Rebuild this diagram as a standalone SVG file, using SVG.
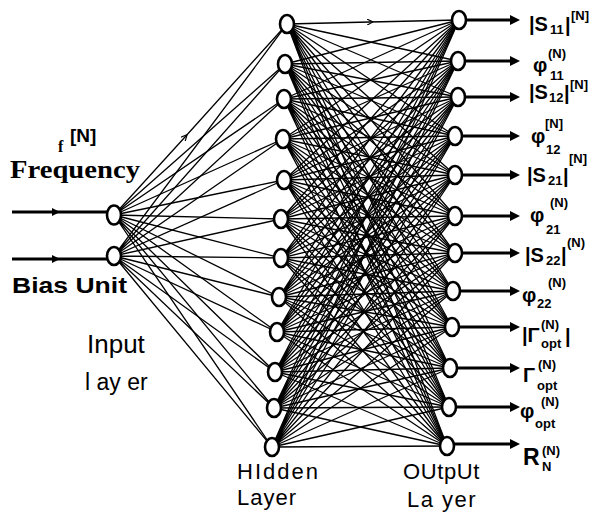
<svg xmlns="http://www.w3.org/2000/svg" width="595" height="514" viewBox="0 0 595 514">
<defs>
<style>
.c{stroke:#000;stroke-width:1.3;fill:none}
.n{fill:#fff;stroke:#000;stroke-width:2.6}
.a{stroke:#000;stroke-width:3;fill:none}
.lm{font-family:"Liberation Sans",Arial,sans-serif;font-weight:bold;font-size:20px}
.ls{font-family:"Liberation Sans",Arial,sans-serif;font-weight:bold;font-size:13px}
.lay{font-family:"Liberation Sans",Arial,sans-serif;font-size:22px}
</style>
<marker id="ah" viewBox="0 0 10 10" refX="2" refY="5" markerWidth="10" markerHeight="10" markerUnits="userSpaceOnUse" orient="auto"><path d="M0,0L10,5L0,10z" fill="#000"/></marker>
<marker id="am" viewBox="0 0 8 8" refX="4" refY="4" markerWidth="8" markerHeight="8" markerUnits="userSpaceOnUse" orient="auto"><path d="M0,0L8,4L0,8z" fill="#000"/></marker>
<marker id="as" viewBox="0 0 6 6" refX="3" refY="3" markerWidth="6" markerHeight="6" markerUnits="userSpaceOnUse" orient="auto"><path d="M0,0L6,3L0,6" fill="none" stroke="#000" stroke-width="1.2"/></marker>
</defs>
<rect width="595" height="514" fill="#fff"/>
<g id="connectors">
<path class="a" d="M12,212L56,212L108,212" marker-mid="url(#am)"/>
<path class="a" d="M12,259L56,259L108,259" marker-mid="url(#am)"/>
<path class="c" d="M114,215L185,137L287,24" marker-mid="url(#as)"/>
<path class="c" d="M114,215L285,64M114,215L284,99M114,215L283,139M114,215L284,180M114,215L281,219M114,215L281,258M114,215L279,297M114,215L277,332M114,215L275,372M114,215L274,408M114,215L272,447"/>
<path class="c" d="M114,256L287,24M114,256L285,64M114,256L284,99M114,256L283,139M114,256L284,180M114,256L281,219M114,256L281,258M114,256L279,297M114,256L277,332M114,256L275,372M114,256L274,408M114,256L272,447"/>
<path class="c" d="M287,24L370,22L459,20" marker-mid="url(#as)"/>
<path class="c" d="M287,24L458,61M287,24L458,97M287,24L455,136M287,24L455,175M287,24L455,216M287,24L455,253M287,24L453,291M287,24L452,327M287,24L450,368M287,24L449,407M287,24L447,446"/>
<path class="c" d="M285,64L459,20M285,64L458,61M285,64L458,97M285,64L455,136M285,64L455,175M285,64L455,216M285,64L455,253M285,64L453,291M285,64L452,327M285,64L450,368M285,64L449,407M285,64L447,446"/>
<path class="c" d="M284,99L459,20M284,99L458,61M284,99L458,97M284,99L455,136M284,99L455,175M284,99L455,216M284,99L455,253M284,99L453,291M284,99L452,327M284,99L450,368M284,99L449,407M284,99L447,446"/>
<path class="c" d="M283,139L459,20M283,139L458,61M283,139L458,97M283,139L455,136M283,139L455,175M283,139L455,216M283,139L455,253M283,139L453,291M283,139L452,327M283,139L450,368M283,139L449,407M283,139L447,446"/>
<path class="c" d="M284,180L459,20M284,180L458,61M284,180L458,97M284,180L455,136M284,180L455,175M284,180L455,216M284,180L455,253M284,180L453,291M284,180L452,327M284,180L450,368M284,180L449,407M284,180L447,446"/>
<path class="c" d="M281,219L459,20M281,219L458,61M281,219L458,97M281,219L455,136M281,219L455,175M281,219L455,216M281,219L455,253M281,219L453,291M281,219L452,327M281,219L450,368M281,219L449,407M281,219L447,446"/>
<path class="c" d="M281,258L459,20M281,258L458,61M281,258L458,97M281,258L455,136M281,258L455,175M281,258L455,216M281,258L455,253M281,258L453,291M281,258L452,327M281,258L450,368M281,258L449,407M281,258L447,446"/>
<path class="c" d="M279,297L459,20M279,297L458,61M279,297L458,97M279,297L455,136M279,297L455,175M279,297L455,216M279,297L455,253M279,297L453,291M279,297L452,327M279,297L450,368M279,297L449,407M279,297L447,446"/>
<path class="c" d="M277,332L459,20M277,332L458,61M277,332L458,97M277,332L455,136M277,332L455,175M277,332L455,216M277,332L455,253M277,332L453,291M277,332L452,327M277,332L450,368M277,332L449,407M277,332L447,446"/>
<path class="c" d="M275,372L459,20M275,372L458,61M275,372L458,97M275,372L455,136M275,372L455,175M275,372L455,216M275,372L455,253M275,372L453,291M275,372L452,327M275,372L450,368M275,372L449,407M275,372L447,446"/>
<path class="c" d="M274,408L459,20M274,408L458,61M274,408L458,97M274,408L455,136M274,408L455,175M274,408L455,216M274,408L455,253M274,408L453,291M274,408L452,327M274,408L450,368M274,408L449,407M274,408L447,446"/>
<path class="c" d="M272,447L459,20M272,447L458,61M272,447L458,97M272,447L455,136M272,447L455,175M272,447L455,216M272,447L455,253M272,447L453,291M272,447L452,327M272,447L450,368M272,447L449,407M272,447L447,446"/>
<path class="a" marker-end="url(#ah)" d="M466,20L512,20"/>
<path class="a" marker-end="url(#ah)" d="M465,61L512,61"/>
<path class="a" marker-end="url(#ah)" d="M465,97L512,97"/>
<path class="a" marker-end="url(#ah)" d="M462,136L512,136"/>
<path class="a" marker-end="url(#ah)" d="M462,175L512,175"/>
<path class="a" marker-end="url(#ah)" d="M462,216L512,216"/>
<path class="a" marker-end="url(#ah)" d="M462,253L512,253"/>
<path class="a" marker-end="url(#ah)" d="M460,291L512,291"/>
<path class="a" marker-end="url(#ah)" d="M459,327L512,327"/>
<path class="a" marker-end="url(#ah)" d="M457,368L512,368"/>
<path class="a" marker-end="url(#ah)" d="M456,407L512,407"/>
<path class="a" marker-end="url(#ah)" d="M454,444L512,444"/>
</g>
<g id="input1"><ellipse class="n" cx="114" cy="215" rx="7" ry="9.5"/></g>
<g id="input2"><ellipse class="n" cx="114" cy="256" rx="7" ry="9"/></g>
<g id="hidden1"><ellipse class="n" cx="287" cy="24" rx="7" ry="9"/></g>
<g id="hidden2"><ellipse class="n" cx="285" cy="64" rx="7" ry="9"/></g>
<g id="hidden3"><ellipse class="n" cx="284" cy="99" rx="7" ry="9"/></g>
<g id="hidden4"><ellipse class="n" cx="283" cy="139" rx="7" ry="9"/></g>
<g id="hidden5"><ellipse class="n" cx="284" cy="180" rx="7" ry="9"/></g>
<g id="hidden6"><ellipse class="n" cx="281" cy="219" rx="7" ry="9"/></g>
<g id="hidden7"><ellipse class="n" cx="281" cy="258" rx="7" ry="9"/></g>
<g id="hidden8"><ellipse class="n" cx="279" cy="297" rx="7" ry="9"/></g>
<g id="hidden9"><ellipse class="n" cx="277" cy="332" rx="7" ry="9"/></g>
<g id="hidden10"><ellipse class="n" cx="275" cy="372" rx="7" ry="9"/></g>
<g id="hidden11"><ellipse class="n" cx="274" cy="408" rx="7" ry="9"/></g>
<g id="hidden12"><ellipse class="n" cx="272" cy="447" rx="7" ry="9"/></g>
<g id="output1"><ellipse class="n" cx="459" cy="20" rx="7" ry="9"/></g>
<g id="output2"><ellipse class="n" cx="458" cy="61" rx="7" ry="9"/></g>
<g id="output3"><ellipse class="n" cx="458" cy="97" rx="7" ry="9"/></g>
<g id="output4"><ellipse class="n" cx="455" cy="136" rx="7" ry="9"/></g>
<g id="output5"><ellipse class="n" cx="455" cy="175" rx="7" ry="9"/></g>
<g id="output6"><ellipse class="n" cx="455" cy="216" rx="7" ry="9"/></g>
<g id="output7"><ellipse class="n" cx="455" cy="253" rx="7" ry="9"/></g>
<g id="output8"><ellipse class="n" cx="453" cy="291" rx="7" ry="9"/></g>
<g id="output9"><ellipse class="n" cx="452" cy="327" rx="7" ry="9"/></g>
<g id="output10"><ellipse class="n" cx="450" cy="368" rx="7" ry="9"/></g>
<g id="output11"><ellipse class="n" cx="449" cy="407" rx="7" ry="9"/></g>
<g id="output12"><ellipse class="n" cx="447" cy="446" rx="7" ry="9"/></g>
<g id="labels">
<text x="58" y="152" font-family="Liberation Serif,serif" font-weight="bold" font-size="16">f</text>
<text x="70" y="142" font-family="Liberation Sans,sans-serif" font-weight="bold" font-size="19">[N]</text>
<text x="10" y="178" font-family="Liberation Serif,serif" font-weight="bold" font-size="25" textLength="130" lengthAdjust="spacingAndGlyphs">Frequency</text>
<text x="12" y="293" font-family="Liberation Sans,sans-serif" font-weight="bold" font-size="22" textLength="115" lengthAdjust="spacingAndGlyphs">Bias Unit</text>
<text x="87" y="353" class="lay" style="font-size:26px">Input</text>
<text x="85" y="390" class="lay" style="font-size:23px">l ay er</text>
<text x="237" y="479" class="lay" letter-spacing="2">HIdden</text>
<text x="237" y="505" class="lay" letter-spacing="1">Layer</text>
<text x="403" y="479" class="lay" letter-spacing="0.6">OUtpUt</text>
<text x="407" y="507" class="lay" letter-spacing="1.5">La yer</text>
<text class="lm" x="529" y="31">|S<tspan class="ls" x="550" y="34">11</tspan><tspan x="565" y="32">|</tspan><tspan class="ls" x="571" y="20">[N]</tspan></text>
<text class="lm" x="533" y="72">φ<tspan class="ls" x="548" y="58">(N)</tspan><tspan class="ls" x="550" y="80">11</tspan></text>
<text class="lm" x="529" y="99">|S<tspan class="ls" x="549" y="102">12</tspan><tspan x="564" y="100">|</tspan><tspan class="ls" x="570" y="89">[N]</tspan></text>
<text class="lm" x="531" y="143">φ<tspan class="ls" x="545" y="128">[N]</tspan><tspan class="ls" x="546" y="154">12</tspan></text>
<text class="lm" x="527" y="182">|S<tspan class="ls" x="548" y="185">21</tspan><tspan x="563" y="183">|</tspan><tspan class="ls" x="569" y="163">[N]</tspan></text>
<text class="lm" x="530" y="222">φ<tspan class="ls" x="550" y="207">(N)</tspan><tspan class="ls" x="546" y="234">21</tspan></text>
<text class="lm" x="525" y="262">|S<tspan class="ls" x="546" y="265">22</tspan><tspan x="561" y="262">|</tspan><tspan class="ls" x="567" y="247">(N)</tspan></text>
<text class="lm" x="522" y="302">φ<tspan class="ls" x="537" y="308">22</tspan><tspan class="ls" x="548" y="287">(N)</tspan></text>
<text class="lm" x="522" y="342">|Γ<tspan class="ls" x="541" y="329">(N)</tspan><tspan class="ls" x="541" y="348">opt</tspan><tspan x="565" y="343">|</tspan></text>
<text class="lm" x="523" y="382">Γ<tspan class="ls" x="538" y="369">(N)</tspan><tspan class="ls" x="537" y="390">opt</tspan></text>
<text class="lm" x="520" y="418">φ<tspan class="ls" x="541" y="406">(N)</tspan><tspan class="ls" x="535" y="428">opt</tspan></text>
<text class="lm" x="523" y="465" style="font-size:23px">R<tspan class="ls" x="542" y="455">(N)</tspan><tspan class="ls" x="542" y="471">N</tspan></text>
</g>
</svg>
